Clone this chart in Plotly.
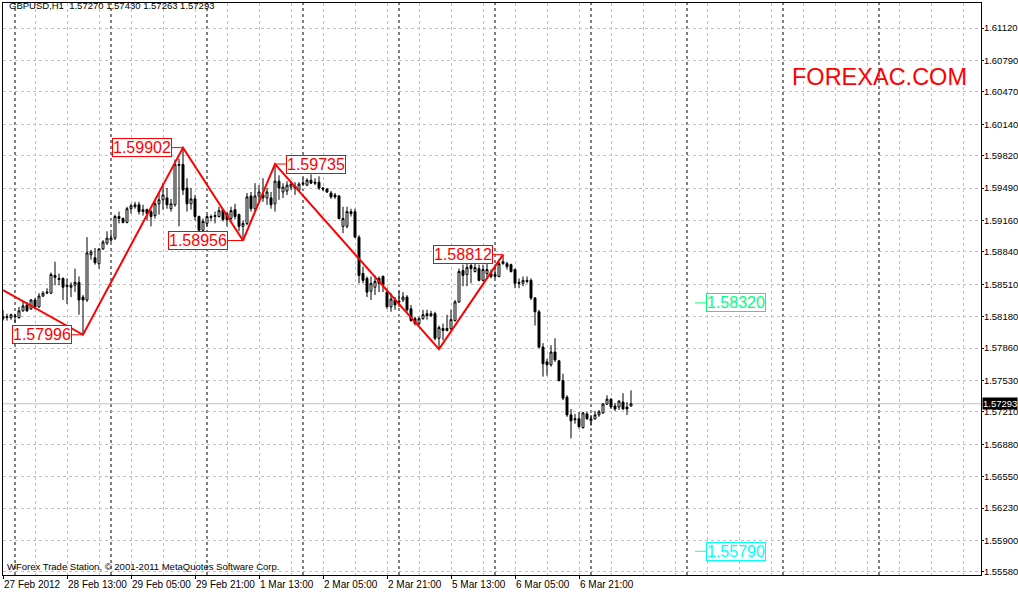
import pandas as pd
import plotly.graph_objects as go

# ---------------- data (GBPUSD, H1) ----------------
opens = [1.5818, 1.5817, 1.5817, 1.5819, 1.5817, 1.5824, 1.5830, 1.5826, 1.5835, 1.5828,
         1.5839, 1.5842, 1.5842, 1.5860, 1.5857, 1.5857, 1.5850, 1.5848, 1.5850, 1.5853,
         1.5838, 1.5835, 1.5881, 1.5878, 1.5872, 1.5887, 1.5893, 1.5896, 1.5898, 1.5918,
         1.5918, 1.5914, 1.5928, 1.5930, 1.5932, 1.5925, 1.5927, 1.5925, 1.5921, 1.5933,
         1.5937, 1.5939, 1.5928, 1.5932, 1.5972, 1.5973, 1.5949, 1.5933, 1.5938, 1.5920,
         1.5906, 1.5913, 1.5920, 1.5920, 1.5920, 1.5927, 1.5923, 1.5918, 1.5927, 1.5922,
         1.5910, 1.5913, 1.5941, 1.5928, 1.5941, 1.5942, 1.5939, 1.5939, 1.5933, 1.5956,
         1.5945, 1.5946, 1.5950, 1.5951, 1.5947, 1.5953, 1.5952, 1.5957, 1.5955, 1.5955,
         1.5949, 1.5948, 1.5944, 1.5942, 1.5941, 1.5910, 1.5910, 1.5925, 1.5925, 1.5899,
         1.5862, 1.5857, 1.5844, 1.5848, 1.5857, 1.5859, 1.5843, 1.5828, 1.5835, 1.5834,
         1.5835, 1.5838, 1.5826, 1.5816, 1.5811, 1.5816, 1.5821, 1.5819, 1.5821, 1.5796,
         1.5806, 1.5804, 1.5806, 1.5814, 1.5833, 1.5865, 1.5861, 1.5870, 1.5864, 1.5867,
         1.5855, 1.5862, 1.5862, 1.5861, 1.5859, 1.5872, 1.5872, 1.5871, 1.5866, 1.5853,
         1.5852, 1.5855, 1.5855, 1.5837, 1.5823, 1.5787, 1.5772, 1.5769, 1.5782, 1.5773,
         1.5753, 1.5736, 1.5718, 1.5713, 1.5714, 1.5705, 1.5719, 1.5712, 1.5714, 1.5718,
         1.5720, 1.5729, 1.5734, 1.5727, 1.5726, 1.5731, 1.5726, 1.57270]
highs = [1.5825, 1.5821, 1.5821, 1.5821, 1.5828, 1.5833, 1.5833, 1.5836, 1.5837, 1.5842,
         1.5844, 1.5847, 1.5863, 1.5874, 1.5862, 1.5858, 1.5857, 1.5853, 1.5867, 1.5859,
         1.5840, 1.5899, 1.5886, 1.5888, 1.5888, 1.5896, 1.5905, 1.5903, 1.5922, 1.5925,
         1.5919, 1.5930, 1.5933, 1.5935, 1.5935, 1.5932, 1.5928, 1.5927, 1.5937, 1.5945,
         1.5954, 1.5949, 1.5938, 1.5978, 1.5979, 1.59902, 1.5959, 1.5949, 1.5942, 1.5921,
         1.5918, 1.5922, 1.5922, 1.5925, 1.5930, 1.5928, 1.5925, 1.5930, 1.5933, 1.5923,
         1.5916, 1.5944, 1.5945, 1.5954, 1.5952, 1.5959, 1.5949, 1.5945, 1.59735, 1.5962,
         1.5954, 1.5956, 1.5956, 1.5955, 1.5955, 1.5959, 1.5959, 1.5963, 1.5959, 1.5961,
         1.5950, 1.5949, 1.5946, 1.5944, 1.5942, 1.5930, 1.5930, 1.5928, 1.5928, 1.5901,
         1.5869, 1.5859, 1.5859, 1.5860, 1.5859, 1.5860, 1.5847, 1.5842, 1.5838, 1.5844,
         1.5843, 1.5840, 1.5830, 1.5818, 1.5818, 1.5825, 1.5825, 1.5824, 1.5823, 1.5809,
         1.5811, 1.5820, 1.5825, 1.5835, 1.5867, 1.5871, 1.5872, 1.5872, 1.5872, 1.5871,
         1.5871, 1.5872, 1.5866, 1.5871, 1.5874, 1.58812, 1.5874, 1.5872, 1.5867, 1.5857,
         1.5859, 1.5859, 1.5857, 1.5838, 1.5825, 1.5791, 1.5775, 1.5789, 1.5796, 1.5774,
         1.5760, 1.5738, 1.5724, 1.5719, 1.5721, 1.5721, 1.5721, 1.5718, 1.5722, 1.5723,
         1.5730, 1.5738, 1.5735, 1.5730, 1.5733, 1.5740, 1.5731, 1.57430]
lows = [1.5814, 1.5814, 1.5815, 1.5812, 1.5816, 1.5823, 1.5823, 1.5825, 1.5826, 1.5827,
        1.5838, 1.5841, 1.5841, 1.5850, 1.5850, 1.5835, 1.5831, 1.5838, 1.5843, 1.5820,
        1.57996, 1.5833, 1.5876, 1.5871, 1.5867, 1.5886, 1.5891, 1.5894, 1.5896, 1.5913,
        1.5913, 1.5913, 1.5923, 1.5928, 1.5922, 1.5921, 1.5916, 1.5910, 1.5918, 1.5922,
        1.5927, 1.5928, 1.5925, 1.5930, 1.5910, 1.5942, 1.5925, 1.5927, 1.5916, 1.5904,
        1.5903, 1.5910, 1.5915, 1.5913, 1.5919, 1.5915, 1.5910, 1.5916, 1.5917, 1.5905,
        1.58956, 1.5911, 1.5925, 1.5925, 1.5935, 1.5935, 1.5932, 1.5928, 1.5925, 1.5937,
        1.5939, 1.5942, 1.5947, 1.5942, 1.5945, 1.5951, 1.5951, 1.5953, 1.5952, 1.5947,
        1.5946, 1.5944, 1.5938, 1.5938, 1.5917, 1.5903, 1.5908, 1.5920, 1.5898, 1.5852,
        1.5852, 1.5838, 1.5835, 1.5840, 1.5843, 1.5843, 1.5826, 1.5823, 1.5825, 1.5828,
        1.5833, 1.5823, 1.5813, 1.5809, 1.5809, 1.5815, 1.5815, 1.5818, 1.5794, 1.5785,
        1.5794, 1.5803, 1.5804, 1.5813, 1.5832, 1.5849, 1.5849, 1.5852, 1.5863, 1.5854,
        1.5854, 1.5857, 1.5857, 1.5857, 1.5858, 1.5871, 1.5866, 1.5863, 1.5847, 1.5847,
        1.5849, 1.5852, 1.5835, 1.5809, 1.5786, 1.5757, 1.5758, 1.5767, 1.5772, 1.5752,
        1.5733, 1.5716, 1.5694, 1.5709, 1.5704, 1.5704, 1.5713, 1.5707, 1.5713, 1.5716,
        1.5719, 1.5728, 1.5724, 1.5722, 1.5723, 1.5723, 1.5718, 1.57263]
closes = [1.5816, 1.5818, 1.5820, 1.5818, 1.5824, 1.5829, 1.5824, 1.5835, 1.5828, 1.5839,
          1.5842, 1.5843, 1.5861, 1.5858, 1.5856, 1.5848, 1.5849, 1.5850, 1.5853, 1.5835,
          1.5835, 1.5883, 1.5884, 1.5873, 1.5887, 1.5894, 1.5898, 1.5898, 1.5920, 1.5920,
          1.5914, 1.5928, 1.5931, 1.5932, 1.5925, 1.5927, 1.5923, 1.5920, 1.5933, 1.5937,
          1.5942, 1.5932, 1.5933, 1.5973, 1.5973, 1.5947, 1.5933, 1.5938, 1.5920, 1.5906,
          1.5915, 1.5920, 1.5919, 1.5921, 1.5926, 1.5917, 1.5917, 1.5926, 1.5920, 1.5910,
          1.5913, 1.5940, 1.5928, 1.5941, 1.5945, 1.5939, 1.5945, 1.5932, 1.5956, 1.5949,
          1.5950, 1.5952, 1.5953, 1.5949, 1.5953, 1.5954, 1.5957, 1.5954, 1.5954, 1.5949,
          1.5948, 1.5945, 1.5940, 1.5940, 1.5918, 1.5918, 1.5925, 1.5923, 1.5899, 1.5860,
          1.5855, 1.5843, 1.5852, 1.5854, 1.5852, 1.5850, 1.5828, 1.5836, 1.5830, 1.5833,
          1.5838, 1.5825, 1.5814, 1.5811, 1.5816, 1.5820, 1.5819, 1.5821, 1.5796, 1.5807,
          1.5804, 1.5806, 1.5815, 1.5833, 1.5864, 1.5860, 1.5868, 1.5867, 1.5868, 1.5855,
          1.5866, 1.5866, 1.5859, 1.5859, 1.5872, 1.5874, 1.5869, 1.5864, 1.5852, 1.5852,
          1.5855, 1.5854, 1.5837, 1.5823, 1.5787, 1.5770, 1.5769, 1.5782, 1.5774, 1.5753,
          1.5735, 1.5718, 1.5712, 1.5714, 1.5706, 1.5720, 1.5714, 1.5714, 1.5718, 1.5721,
          1.5729, 1.5734, 1.5726, 1.5724, 1.5732, 1.5724, 1.5724, 1.57293]

first_bar_time = "2012-02-27 21:00"
n_axis_bars = 245

# ZigZag turning points (bar index, price)
zz_idx = [0, 20, 45, 60, 68, 109, 125]
zz_price = [1.5845, 1.57996, 1.59902, 1.58956, 1.59735, 1.5785, 1.58812]
# labelled turning points
lbl_idx = [20, 45, 60, 68, 125]
lbl_price = [1.57996, 1.59902, 1.58956, 1.59735, 1.58812]
lbl_offset = [-41, -41, -45, 41, -40]

# level labels on the right
level_idx = 173
level_price = [1.58320, 1.55790]
level_color = ["#00FF7F", "#00FFFF"]

# axis labels
price_ticks = [1.61120, 1.60790, 1.60470, 1.60140, 1.59820, 1.59490, 1.59160, 1.58840,
               1.58510, 1.58180, 1.57860, 1.57530, 1.57210, 1.56880, 1.56550, 1.56230,
               1.55900, 1.55580]
tick_times = ["2012-02-27 21:00", "2012-02-28 13:00", "2012-02-29 05:00", "2012-02-29 21:00",
              "2012-03-01 13:00", "2012-03-02 05:00", "2012-03-02 21:00", "2012-03-05 13:00",
              "2012-03-06 05:00", "2012-03-06 21:00"]
tick_labels = ["27 Feb 2012", "28 Feb 13:00", "29 Feb 05:00", "29 Feb 21:00", "1 Mar 13:00",
               "2 Mar 05:00", "2 Mar 21:00", "5 Mar 13:00", "6 Mar 05:00", "6 Mar 21:00"]

# ---------------- time axis (hourly bars, weekdays only) ----------------
hours = pd.date_range(first_bar_time, periods=24 * 14, freq="h")
bar_times = hours[hours.dayofweek < 5][:n_axis_bars]
tick_idx = [int(bar_times.get_loc(pd.Timestamp(t))) for t in tick_times]
day_starts = [i for i, t in enumerate(bar_times) if t.hour == 0]
n = len(opens)
x = list(range(n))

FONT = "Liberation Sans, Arial, sans-serif"
GRID = "#C0C0C0"

fig = go.Figure()
fig.add_trace(go.Candlestick(
    x=x, open=opens, high=highs, low=lows, close=closes,
    increasing=dict(line=dict(color="black", width=1), fillcolor="white"),
    decreasing=dict(line=dict(color="black", width=1), fillcolor="black"),
    whiskerwidth=0, showlegend=False, hoverinfo="skip"))
fig.add_trace(go.Scatter(x=zz_idx, y=zz_price, mode="lines",
                         line=dict(color="#FF0000", width=2), showlegend=False,
                         hoverinfo="skip"))

shapes = []
for d in day_starts:
    shapes.append(dict(type="line", xref="x", yref="paper", x0=d, x1=d, y0=0, y1=1,
                       line=dict(color="black", width=1, dash="3px,3px"), layer="below"))
shapes.append(dict(type="line", xref="paper", yref="y", x0=0, x1=1,
                   y0=closes[-1], y1=closes[-1],
                   line=dict(color=GRID, width=1), layer="below"))

ann = []
for i, p, off in zip(lbl_idx, lbl_price, lbl_offset):
    ann.append(dict(x=i, y=p, xref="x", yref="y", text=f"{p:.5f}",
                    showarrow=True, arrowhead=0, arrowwidth=1, arrowcolor="#FF0000",
                    ax=off, ay=0, axref="pixel", ayref="pixel", standoff=0,
                    font=dict(family=FONT, size=16, color="#FF0000"),
                    bgcolor="white", bordercolor="#FF0000", borderwidth=1, borderpad=0))
for p, c in zip(level_price, level_color):
    ann.append(dict(x=level_idx, y=p, xref="x", yref="y", text=f"{p:.5f}",
                    showarrow=True, arrowhead=0, arrowwidth=1, arrowcolor=c,
                    ax=41, ay=0, axref="pixel", ayref="pixel", standoff=0,
                    font=dict(family=FONT, size=16, color=c),
                    bgcolor="white", bordercolor=c, borderwidth=1, borderpad=0))
ann.append(dict(x=1, y=closes[-1], xref="paper", yref="y", text=f"{closes[-1]:.5f}",
                showarrow=False, xanchor="left", yanchor="middle", xshift=1,
                font=dict(family=FONT, size=9.5, color="white"), bgcolor="black",
                borderpad=0))
ann.append(dict(x=0.004, y=0.995, xref="paper", yref="paper", xanchor="left",
                yanchor="middle", showarrow=False,
                text=f"GBPUSD,H1\u00a0 {opens[-1]:.5f} {highs[-1]:.5f} {lows[-1]:.5f} {closes[-1]:.5f}",
                font=dict(family=FONT, size=9.5, color="black")))
ann.append(dict(x=0.002, y=0.014, xref="paper", yref="paper", xanchor="left",
                yanchor="middle", showarrow=False,
                text="WForex Trade Station, \u00a9 2001-2011 MetaQuotes Software Corp.",
                font=dict(family=FONT, size=9.5, color="black")))
ann.append(dict(x=0.9877, y=0.8706, xref="paper", yref="paper", xanchor="right",
                yanchor="middle", showarrow=False, text="FOREXAC.COM",
                font=dict(family=FONT, size=23.5, color="#FF0000")))

fig.update_layout(
    width=1018, height=592,
    margin=dict(l=3, r=37, t=3, b=17, autoexpand=False),
    paper_bgcolor="white", plot_bgcolor="white",
    shapes=shapes, annotations=ann, showlegend=False,
    font=dict(family=FONT, size=10, color="black"),
    xaxis=dict(range=[0, 244.5], tickmode="array", tickvals=tick_idx, ticktext=tick_labels,
               ticks="outside", ticklen=3, tickcolor="black", tickangle=0,
               ticklabelposition="outside right", automargin=False,
               showline=True, linecolor="black", linewidth=1, mirror=True,
               showgrid=True, gridcolor=GRID, griddash="3px,3px", gridwidth=1,
               minor=dict(tickmode="array", tickvals=list(range(0, n_axis_bars, 8)),
                          showgrid=True, gridcolor=GRID, griddash="3px,3px", ticks=""),
               rangeslider=dict(visible=False), zeroline=False,
               tickfont=dict(family=FONT, size=10, color="black")),
    yaxis=dict(range=[1.55549, 1.61375], side="right", tickmode="array",
               tickvals=price_ticks, ticktext=[f"{v:.5f}" for v in price_ticks],
               ticks="outside", ticklen=2, tickcolor="black", automargin=False,
               ticklabelstandoff=-2,
               showline=True, linecolor="black", linewidth=1, mirror=True,
               showgrid=True, gridcolor=GRID, griddash="3px,3px", gridwidth=1,
               zeroline=False, tickfont=dict(family=FONT, size=9.5, color="black")),
)

fig.write_html("out.html", config={"displayModeBar": False},
               post_script="document.body.style.margin='0';document.body.style.overflow='hidden';")
